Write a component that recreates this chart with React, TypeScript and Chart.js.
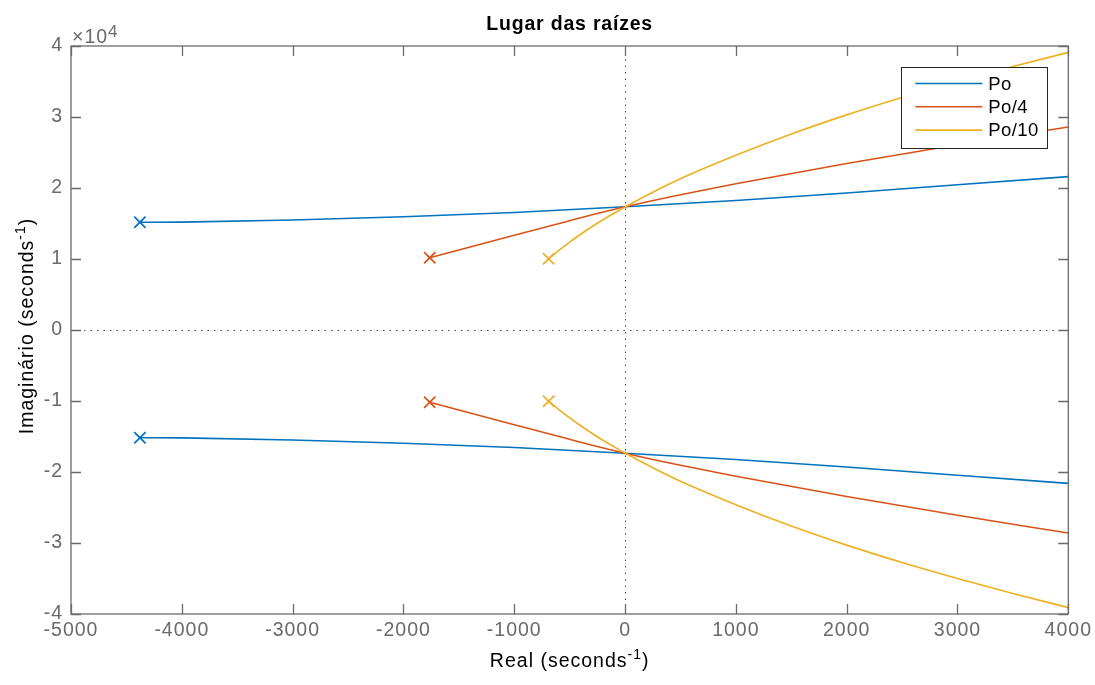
import React, { useEffect, useRef } from "react";
import { Chart, registerables } from "chart.js";

Chart.register(...registerables);

// Real part (seconds^-1) and imaginary part (x1e4 seconds^-1) of the upper branches
const poX = [-4378, -4000, -3000, -2000, -1000, 0, 1000, 2000, 3000, 4000];
const poY = [1.517, 1.52, 1.55, 1.595, 1.655, 1.735, 1.825, 1.93, 2.045, 2.16];

const po4X = [-1763, -1000, -500, 0, 500, 1000, 2000, 3000, 4000];
const po4Y = [1.018, 1.335, 1.54, 1.735, 1.905, 2.06, 2.345, 2.61, 2.86];

const po10X = [-690, -600, -500, -400, -300, -200, -100, 0, 250, 500, 1000, 1500, 2000, 2500, 3000, 3500, 4000];
const po10Y = [1.004, 1.117, 1.237, 1.349, 1.454, 1.552, 1.644, 1.733, 1.94, 2.13, 2.46, 2.76, 3.03, 3.275, 3.5, 3.71, 3.91];

const seriesNames = ["Po", "Po/4", "Po/10"];
const seriesColors = ["#0072BD", "#D95319", "#EDB120"];

const xTicks = [-5000, -4000, -3000, -2000, -1000, 0, 1000, 2000, 3000, 4000];
const yTicks = [-4, -3, -2, -1, 0, 1, 2, 3, 4];
const yScale = 10000;

const titleText = "Lugar das raízes";
const xTitle = "Real (seconds";
const yTitle = "Imaginário (seconds";
const supText = "-1";

const FONT = "'Liberation Sans', Arial, Helvetica, sans-serif";
const AXIS_GRAY = "#6a6a6a";
const SPACING = "1px";

function branch(xs: number[], ys: number[], sign: number) {
  return xs.map((x, i) => ({ x, y: sign * ys[i] * yScale }));
}

export default function App() {
  const ref = useRef<HTMLCanvasElement | null>(null);

  useEffect(() => {
    document.body.style.margin = "0";
    const canvas = ref.current;
    if (!canvas) return;

    const all = [
      [poX, poY],
      [po4X, po4Y],
      [po10X, po10Y],
    ];

    const datasets: any[] = [];
    all.forEach(([xs, ys], k) => {
      [1, -1].forEach((sign) => {
        datasets.push({
          label: seriesNames[k],
          data: branch(xs, ys, sign),
          borderColor: seriesColors[k],
          backgroundColor: seriesColors[k],
          borderWidth: 1.6,
          showLine: true,
          pointRadius: 0,
          cubicInterpolationMode: "monotone",
          order: 3 - k,
        });
        datasets.push({
          label: seriesNames[k] + " pole",
          data: [{ x: xs[0], y: sign * ys[0] * yScale }],
          borderColor: seriesColors[k],
          backgroundColor: seriesColors[k],
          pointStyle: "crossRot",
          pointRadius: 8,
          pointBorderWidth: 1.7,
          showLine: false,
          order: 3 - k,
        });
      });
    });

    const decor = {
      id: "matlabDecor",
      beforeDraw(chart: any) {
        chart.ctx.letterSpacing = SPACING;
      },
      beforeDatasetsDraw(chart: any) {
        const { ctx, chartArea: a, scales } = chart;
        const x0 = scales.x.getPixelForValue(0);
        const y0 = scales.y.getPixelForValue(0);
        ctx.save();
        ctx.strokeStyle = "#444";
        ctx.lineWidth = 1;
        ctx.setLineDash([1.5, 5]);
        ctx.beginPath();
        ctx.moveTo(Math.round(x0) + 0.5, a.top);
        ctx.lineTo(Math.round(x0) + 0.5, a.bottom);
        ctx.moveTo(a.left, Math.round(y0) + 0.5);
        ctx.lineTo(a.right, Math.round(y0) + 0.5);
        ctx.stroke();
        ctx.restore();
      },
      afterDraw(chart: any) {
        const { ctx, chartArea: a, scales } = chart;
        ctx.save();
        ctx.letterSpacing = SPACING;
        // Box
        ctx.strokeStyle = AXIS_GRAY;
        ctx.lineWidth = 1.3;
        ctx.strokeRect(a.left, a.top, a.right - a.left, a.bottom - a.top);
        // Ticks inside
        const tl = 10;
        ctx.beginPath();
        xTicks.forEach((v) => {
          const px = Math.round(scales.x.getPixelForValue(v)) + 0.5;
          ctx.moveTo(px, a.bottom);
          ctx.lineTo(px, a.bottom - tl);
          ctx.moveTo(px, a.top);
          ctx.lineTo(px, a.top + tl);
        });
        yTicks.forEach((v) => {
          const py = Math.round(scales.y.getPixelForValue(v * yScale)) + 0.5;
          ctx.moveTo(a.left, py);
          ctx.lineTo(a.left + tl, py);
          ctx.moveTo(a.right, py);
          ctx.lineTo(a.right - tl, py);
        });
        ctx.stroke();

        // Exponent label
        ctx.fillStyle = AXIS_GRAY;
        ctx.textBaseline = "alphabetic";
        ctx.textAlign = "left";
        ctx.font = `19.5px ${FONT}`;
        const ex = a.left + 1;
        const ey = a.top - 3;
        ctx.fillText("×10", ex, ey);
        const w10 = ctx.measureText("×10").width;
        ctx.font = `17px ${FONT}`;
        ctx.fillText("4", ex + w10, ey - 6);

        // Title
        ctx.fillStyle = "#000";
        ctx.font = `bold 19.5px ${FONT}`;
        ctx.letterSpacing = "0.8px";
        ctx.textAlign = "center";
        ctx.fillText(titleText, (a.left + a.right) / 2, 30);
        ctx.letterSpacing = SPACING;

        // Axis titles with superscript
        const drawSupTitle = (base: string, cx: number, cy: number, rot: boolean) => {
          ctx.save();
          ctx.translate(cx, cy);
          if (rot) ctx.rotate(-Math.PI / 2);
          ctx.fillStyle = "#000";
          ctx.textAlign = "left";
          ctx.font = `19.5px ${FONT}`;
          const wb = ctx.measureText(base).width;
          const wc = ctx.measureText(")").width;
          ctx.font = `14px ${FONT}`;
          const ws = ctx.measureText(supText).width;
          const total = wb + ws + wc;
          let x = -total / 2;
          ctx.font = `19.5px ${FONT}`;
          ctx.fillText(base, x, 0);
          x += wb;
          ctx.font = `14px ${FONT}`;
          ctx.fillText(supText, x, -8);
          x += ws;
          ctx.font = `19.5px ${FONT}`;
          ctx.fillText(")", x, 0);
          ctx.restore();
        };
        drawSupTitle(xTitle, (a.left + a.right) / 2, 667, false);
        drawSupTitle(yTitle, 32.5, (a.top + a.bottom) / 2 - 4, true);

        // Legend
        const lw = 146;
        const lh = 81;
        const lx = a.right - 21 - lw;
        const ly = a.top + 21;
        ctx.fillStyle = "#fff";
        ctx.fillRect(lx, ly, lw, lh);
        ctx.strokeStyle = "#262626";
        ctx.lineWidth = 1;
        ctx.strokeRect(Math.round(lx) + 0.5, Math.round(ly) + 0.5, lw, lh);
        ctx.letterSpacing = "0.4px";
        seriesNames.forEach((name, i) => {
          const yy = ly + 16.5 + i * 23.3;
          ctx.strokeStyle = seriesColors[i];
          ctx.lineWidth = 1.6;
          ctx.beginPath();
          ctx.moveTo(lx + 14, yy);
          ctx.lineTo(lx + 81, yy);
          ctx.stroke();
          ctx.fillStyle = "#000";
          ctx.font = `18.5px ${FONT}`;
          ctx.textAlign = "left";
          ctx.textBaseline = "middle";
          ctx.fillText(name, lx + 87, yy + 1);
        });
        ctx.restore();
      },
    };

    const chart = new Chart(canvas, {
      type: "scatter",
      data: { datasets },
      options: {
        animation: false,
        responsive: false,
        maintainAspectRatio: false,
        layout: { padding: { top: 46, right: 26, left: 0, bottom: 0 } },
        plugins: {
          legend: { display: false },
          title: { display: false },
          tooltip: { enabled: false },
        },
        scales: {
          x: {
            type: "linear",
            min: -5000,
            max: 4000,
            grid: { display: false, tickLength: 0 },
            border: { display: false },
            afterFit: (s: any) => {
              s.height = 71;
            },
            afterBuildTicks: (s: any) => {
              s.ticks = xTicks.map((v) => ({ value: v }));
            },
            ticks: {
              color: AXIS_GRAY,
              font: { family: FONT, size: 19.5 },
              padding: 5,
              maxRotation: 0,
              autoSkip: false,
              callback: (v: any) => String(v),
            },
          },
          y: {
            type: "linear",
            min: -4 * yScale,
            max: 4 * yScale,
            grid: { display: false, tickLength: 0 },
            border: { display: false },
            afterFit: (s: any) => {
              s.width = 71;
            },
            afterBuildTicks: (s: any) => {
              s.ticks = yTicks.map((v) => ({ value: v * yScale }));
            },
            ticks: {
              color: AXIS_GRAY,
              font: { family: FONT, size: 19.5 },
              padding: 8,
              autoSkip: false,
              callback: (v: any) => String(Math.round(Number(v) / yScale)),
            },
          },
        },
      },
      plugins: [decor],
    });

    return () => {
      chart.destroy();
    };
  }, []);

  return (
    <div style={{ width: 1095, height: 685, background: "#fff" }}>
      <canvas ref={ref} width={1095} height={685} style={{ display: "block" }} />
    </div>
  );
}
